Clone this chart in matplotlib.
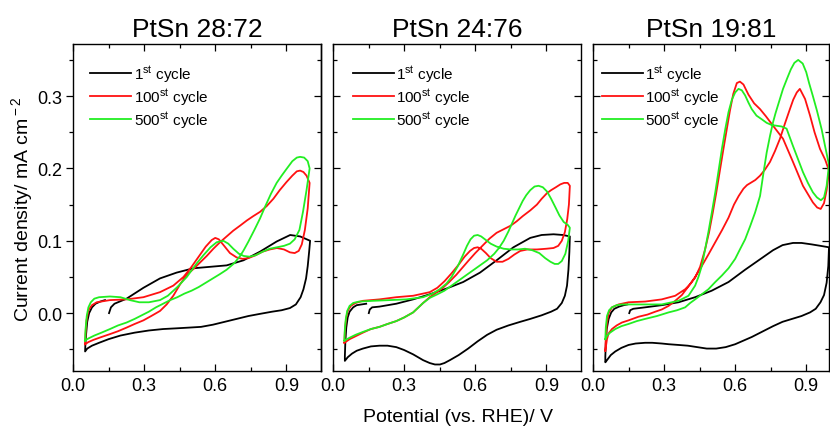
import matplotlib
matplotlib.use("Agg")
import matplotlib.pyplot as plt
from matplotlib.ticker import MultipleLocator

plt.rcParams["font.family"] = ["Liberation Sans", "DejaVu Sans"]
plt.rcParams["mathtext.fontset"] = "custom"
plt.rcParams["mathtext.rm"] = "Liberation Sans"
plt.rcParams["mathtext.it"] = "Liberation Sans:italic"
plt.rcParams["mathtext.bf"] = "Liberation Sans:bold"

titles = ["PtSn 28:72", "PtSn 24:76", "PtSn 19:81"]
labels = [r"1$^{\rm st}$ cycle", r"100$^{\rm st}$ cycle", r"500$^{\rm st}$ cycle"]
colors = ["black", "#ff1111", "#22ee22"]

# ---- PtSn 28:72 ----
p1_black_x = [0.152, 0.160, 0.175, 0.226, 0.297, 0.367, 0.437, 0.508, 0.578, 0.648, 0.719, 0.789, 0.859, 0.916, 0.958, 1.000,
              0.996, 0.990, 0.983, 0.972, 0.960, 0.940, 0.915, 0.880, 0.840, 0.789, 0.740, 0.690, 0.640, 0.590, 0.540, 0.490,
              0.437, 0.380, 0.320, 0.260, 0.200, 0.150, 0.110, 0.080, 0.060, 0.051,
              0.052, 0.055, 0.060, 0.068, 0.080, 0.095, 0.115, 0.135]
p1_black_y = [0.000, 0.008, 0.013, 0.020, 0.035, 0.048, 0.056, 0.062, 0.064, 0.066, 0.073, 0.085, 0.099, 0.108, 0.106, 0.100,
              0.085, 0.065, 0.048, 0.033, 0.022, 0.012, 0.007, 0.004, 0.002, -0.001, -0.004, -0.008, -0.012, -0.016, -0.019, -0.020,
              -0.021, -0.022, -0.024, -0.027, -0.031, -0.036, -0.041, -0.045, -0.049, -0.053,
              -0.045, -0.030, -0.012, 0.000, 0.008, 0.013, 0.016, 0.018]
p1_red_x = [0.051, 0.053, 0.057, 0.065, 0.080, 0.100, 0.156, 0.226, 0.297, 0.367, 0.423, 0.466, 0.500, 0.530, 0.560, 0.585,
            0.600, 0.615, 0.635, 0.662, 0.690, 0.715, 0.740, 0.770, 0.800, 0.830, 0.860, 0.890, 0.915, 0.935, 0.952, 0.965,
            0.978, 0.990, 0.998,
            0.985, 0.972, 0.958, 0.944, 0.925, 0.900, 0.872, 0.845, 0.817, 0.789, 0.760, 0.733, 0.705, 0.676, 0.648, 0.620,
            0.592, 0.564, 0.536, 0.508, 0.480, 0.452, 0.423, 0.395, 0.367, 0.330, 0.297, 0.260, 0.226, 0.190, 0.156, 0.120,
            0.086, 0.065, 0.051]
p1_red_y = [-0.043, -0.028, -0.010, 0.004, 0.011, 0.015, 0.018, 0.019, 0.022, 0.029, 0.038, 0.050, 0.064, 0.078, 0.092, 0.101,
            0.104, 0.102, 0.094, 0.083, 0.077, 0.075, 0.076, 0.080, 0.085, 0.088, 0.090, 0.088, 0.084, 0.083, 0.086, 0.095,
            0.115, 0.145, 0.180,
            0.190, 0.195, 0.197, 0.196, 0.190, 0.181, 0.170, 0.158, 0.148, 0.140, 0.134, 0.128, 0.121, 0.114, 0.106, 0.098,
            0.089, 0.079, 0.070, 0.061, 0.053, 0.040, 0.024, 0.012, 0.003, -0.004, -0.010, -0.015, -0.020, -0.025, -0.029, -0.033,
            -0.037, -0.040, -0.043]
p1_green_x = [0.051, 0.053, 0.058, 0.065, 0.075, 0.090, 0.110, 0.156, 0.200, 0.240, 0.280, 0.320, 0.367, 0.400, 0.440, 0.480,
              0.520, 0.550, 0.580, 0.606, 0.634, 0.655, 0.676, 0.700, 0.720, 0.745, 0.770, 0.800, 0.830, 0.860, 0.890, 0.915,
              0.935, 0.955, 0.970, 0.985, 0.998,
              0.990, 0.975, 0.958, 0.944, 0.925, 0.900, 0.880, 0.859, 0.835, 0.810, 0.789, 0.765, 0.740, 0.720, 0.705, 0.680,
              0.648, 0.620, 0.590, 0.560, 0.530, 0.500, 0.470, 0.440, 0.410, 0.380, 0.350, 0.320, 0.290, 0.260, 0.226, 0.190,
              0.156, 0.120, 0.090, 0.065, 0.051]
p1_green_y = [-0.038, -0.022, -0.004, 0.008, 0.015, 0.020, 0.022, 0.023, 0.022, 0.018, 0.015, 0.015, 0.018, 0.024, 0.036, 0.050,
              0.068, 0.080, 0.091, 0.098, 0.100, 0.096, 0.089, 0.082, 0.079, 0.078, 0.080, 0.085, 0.089, 0.091, 0.093, 0.096,
              0.102, 0.115, 0.140, 0.170, 0.200,
              0.210, 0.215, 0.216, 0.215, 0.210, 0.199, 0.190, 0.180, 0.165, 0.147, 0.131, 0.115, 0.099, 0.087, 0.079, 0.069,
              0.060, 0.054, 0.048, 0.042, 0.036, 0.031, 0.027, 0.022, 0.018, 0.013, 0.008, 0.002, -0.003, -0.008, -0.013, -0.017,
              -0.022, -0.027, -0.031, -0.035, -0.038]

# ---- PtSn 24:76 ----
p2_black_x = [0.151, 0.155, 0.165, 0.196, 0.267, 0.338, 0.408, 0.479, 0.549, 0.620, 0.690, 0.761, 0.832, 0.880, 0.930, 0.970, 0.999,
              0.997, 0.993, 0.987, 0.978, 0.965, 0.945, 0.920, 0.880, 0.832, 0.790, 0.740, 0.690, 0.650, 0.610, 0.570, 0.530,
              0.493, 0.470, 0.451, 0.430, 0.408, 0.380, 0.338, 0.300, 0.267, 0.230, 0.196, 0.160, 0.126, 0.100, 0.080, 0.062, 0.050,
              0.050, 0.052, 0.056, 0.062, 0.070, 0.085, 0.100, 0.120, 0.140]
p2_black_y = [0.000, 0.005, 0.008, 0.009, 0.013, 0.019, 0.026, 0.034, 0.043, 0.056, 0.073, 0.091, 0.104, 0.108, 0.109, 0.108, 0.106,
              0.085, 0.060, 0.038, 0.024, 0.014, 0.006, 0.002, -0.003, -0.008, -0.012, -0.017, -0.023, -0.030, -0.039, -0.049, -0.058,
              -0.065, -0.069, -0.071, -0.071, -0.069, -0.065, -0.057, -0.051, -0.047, -0.045, -0.045, -0.046, -0.049, -0.052, -0.056, -0.061, -0.066,
              -0.060, -0.040, -0.020, -0.006, 0.002, 0.008, 0.011, 0.012, 0.013]
p2_red_x = [0.048, 0.050, 0.055, 0.062, 0.075, 0.095, 0.126, 0.196, 0.267, 0.338, 0.408, 0.440, 0.470, 0.500, 0.530, 0.555,
            0.578, 0.595, 0.610, 0.625, 0.645, 0.665, 0.690, 0.715, 0.740, 0.765, 0.790, 0.820, 0.860, 0.900, 0.930, 0.950,
            0.965, 0.978, 0.988, 0.995, 0.999,
            0.990, 0.975, 0.959, 0.940, 0.920, 0.903, 0.880, 0.860, 0.832, 0.800, 0.775, 0.750, 0.720, 0.690, 0.660, 0.630,
            0.600, 0.570, 0.549, 0.520, 0.490, 0.460, 0.430, 0.408, 0.380, 0.338, 0.300, 0.267, 0.230, 0.196, 0.160, 0.126,
            0.095, 0.070, 0.048]
p2_red_y = [-0.041, -0.025, -0.008, 0.003, 0.010, 0.014, 0.017, 0.019, 0.022, 0.024, 0.029, 0.035, 0.044, 0.055, 0.067, 0.078,
            0.086, 0.090, 0.091, 0.089, 0.083, 0.076, 0.071, 0.071, 0.075, 0.081, 0.086, 0.088, 0.088, 0.089, 0.090, 0.093,
            0.100, 0.112, 0.130, 0.150, 0.176,
            0.180, 0.180, 0.178, 0.174, 0.170, 0.166, 0.158, 0.150, 0.142, 0.134, 0.127, 0.121, 0.116, 0.111, 0.103, 0.093,
            0.083, 0.072, 0.064, 0.053, 0.043, 0.034, 0.027, 0.022, 0.014, 0.001, -0.006, -0.011, -0.015, -0.019, -0.022, -0.027,
            -0.032, -0.036, -0.041]
p2_green_x = [0.048, 0.050, 0.054, 0.060, 0.070, 0.085, 0.110, 0.168, 0.239, 0.309, 0.380, 0.420, 0.450, 0.479, 0.500, 0.525,
              0.549, 0.565, 0.580, 0.595, 0.610, 0.625, 0.645, 0.665, 0.690, 0.720, 0.750, 0.780, 0.810, 0.840, 0.870, 0.895,
              0.917, 0.935, 0.950, 0.965, 0.980, 0.992, 0.999,
              0.990, 0.973, 0.955, 0.940, 0.920, 0.903, 0.885, 0.867, 0.850, 0.832, 0.815, 0.800, 0.785, 0.770, 0.755, 0.740,
              0.720, 0.700, 0.680, 0.650, 0.620, 0.590, 0.560, 0.530, 0.500, 0.470, 0.440, 0.408, 0.380, 0.338, 0.300, 0.267,
              0.230, 0.196, 0.160, 0.126, 0.095, 0.070, 0.048]
p2_green_y = [-0.038, -0.022, -0.008, 0.003, 0.010, 0.014, 0.016, 0.017, 0.018, 0.019, 0.022, 0.027, 0.033, 0.041, 0.050, 0.064,
              0.081, 0.093, 0.102, 0.107, 0.108, 0.106, 0.101, 0.096, 0.092, 0.089, 0.088, 0.088, 0.089, 0.087, 0.083, 0.076,
              0.071, 0.068, 0.068, 0.072, 0.082, 0.100, 0.118,
              0.122, 0.126, 0.135, 0.145, 0.158, 0.168, 0.174, 0.176, 0.175, 0.170, 0.163, 0.155, 0.145, 0.135, 0.124, 0.113,
              0.100, 0.090, 0.082, 0.073, 0.066, 0.059, 0.052, 0.045, 0.038, 0.031, 0.026, 0.021, 0.014, 0.001, -0.006, -0.011,
              -0.015, -0.019, -0.022, -0.026, -0.030, -0.034, -0.038]

# ---- PtSn 19:81 ----
p3_black_x = [0.153, 0.157, 0.170, 0.220, 0.290, 0.361, 0.431, 0.501, 0.572, 0.642, 0.712, 0.760, 0.800, 0.844, 0.880, 0.923, 0.960, 0.996,
              0.993, 0.986, 0.975, 0.960, 0.940, 0.916, 0.880, 0.840, 0.800, 0.760, 0.712, 0.670, 0.642, 0.600, 0.560, 0.520,
              0.480, 0.440, 0.400, 0.361, 0.320, 0.290, 0.250, 0.220, 0.180, 0.150, 0.120, 0.094, 0.075, 0.059, 0.052,
              0.052, 0.054, 0.058, 0.066, 0.077, 0.090, 0.110, 0.130, 0.145]
p3_black_y = [0.000, 0.004, 0.006, 0.008, 0.011, 0.015, 0.022, 0.031, 0.043, 0.060, 0.076, 0.087, 0.094, 0.097, 0.097, 0.095, 0.093, 0.091,
              0.065, 0.042, 0.025, 0.015, 0.006, 0.001, -0.004, -0.008, -0.012, -0.018, -0.026, -0.033, -0.037, -0.043, -0.047, -0.049,
              -0.049, -0.047, -0.045, -0.044, -0.043, -0.042, -0.041, -0.041, -0.042, -0.044, -0.048, -0.053, -0.058, -0.065, -0.068,
              -0.060, -0.042, -0.022, -0.008, 0.001, 0.006, 0.009, 0.011, 0.012]
p3_red_x = [0.052, 0.054, 0.059, 0.066, 0.080, 0.108, 0.150, 0.220, 0.290, 0.347, 0.389, 0.410, 0.431, 0.452, 0.473, 0.490,
            0.505, 0.520, 0.535, 0.550, 0.565, 0.578, 0.592, 0.607, 0.620, 0.635, 0.656, 0.680, 0.705, 0.730, 0.760, 0.802,
            0.844, 0.886, 0.928, 0.946, 0.961, 0.975, 0.986, 0.996,
            0.980, 0.958, 0.935, 0.916, 0.895, 0.873, 0.860, 0.845, 0.831, 0.810, 0.789, 0.768, 0.747, 0.725, 0.705, 0.685,
            0.665, 0.650, 0.635, 0.615, 0.595, 0.572, 0.545, 0.516, 0.487, 0.459, 0.431, 0.403, 0.375, 0.347, 0.319, 0.290,
            0.263, 0.230, 0.192, 0.150, 0.122, 0.100, 0.080, 0.066, 0.059, 0.052]
p3_red_y = [-0.052, -0.033, -0.013, 0.000, 0.008, 0.012, 0.015, 0.016, 0.019, 0.024, 0.033, 0.040, 0.049, 0.064, 0.088, 0.112,
            0.138, 0.166, 0.196, 0.226, 0.255, 0.280, 0.303, 0.318, 0.320, 0.316, 0.302, 0.290, 0.282, 0.272, 0.259, 0.241,
            0.209, 0.176, 0.153, 0.146, 0.144, 0.152, 0.170, 0.197,
            0.212, 0.227, 0.250, 0.273, 0.296, 0.310, 0.305, 0.295, 0.282, 0.262, 0.241, 0.224, 0.209, 0.198, 0.190, 0.184,
            0.180, 0.177, 0.172, 0.162, 0.150, 0.132, 0.115, 0.098, 0.081, 0.065, 0.050, 0.037, 0.025, 0.017, 0.010, 0.005,
            0.002, -0.002, -0.005, -0.010, -0.013, -0.017, -0.022, -0.028, -0.036, -0.052]
p3_green_x = [0.052, 0.054, 0.059, 0.068, 0.080, 0.100, 0.122, 0.220, 0.290, 0.361, 0.403, 0.431, 0.445, 0.459, 0.473, 0.487,
              0.502, 0.516, 0.530, 0.544, 0.558, 0.572, 0.586, 0.600, 0.614, 0.628, 0.642, 0.656, 0.670, 0.690, 0.712, 0.733,
              0.754, 0.775, 0.796, 0.817, 0.844, 0.865, 0.886, 0.907, 0.928, 0.945, 0.962, 0.975, 0.986, 0.996,
              0.980, 0.965, 0.945, 0.928, 0.912, 0.900, 0.885, 0.866, 0.850, 0.835, 0.820, 0.802, 0.785, 0.770, 0.760, 0.747,
              0.733, 0.720, 0.705, 0.684, 0.663, 0.642, 0.620, 0.600, 0.572, 0.544, 0.516, 0.487, 0.459, 0.431, 0.410, 0.389,
              0.355, 0.319, 0.270, 0.220, 0.185, 0.150, 0.120, 0.094, 0.072, 0.060, 0.052]
p3_green_y = [-0.036, -0.020, -0.004, 0.004, 0.008, 0.011, 0.012, 0.012, 0.012, 0.017, 0.024, 0.038, 0.050, 0.065, 0.088, 0.112,
              0.140, 0.167, 0.197, 0.227, 0.254, 0.278, 0.295, 0.305, 0.310, 0.308, 0.301, 0.291, 0.282, 0.273, 0.268, 0.263,
              0.260, 0.259, 0.258, 0.255, 0.231, 0.213, 0.195, 0.180, 0.167, 0.160, 0.156, 0.160, 0.176, 0.205,
              0.230, 0.254, 0.280, 0.300, 0.318, 0.333, 0.345, 0.350, 0.346, 0.337, 0.325, 0.310, 0.292, 0.276, 0.264, 0.245,
              0.222, 0.195, 0.162, 0.139, 0.120, 0.102, 0.088, 0.075, 0.062, 0.052, 0.043, 0.033, 0.026, 0.019, 0.014, 0.008,
              0.004, 0.001, -0.004, -0.008, -0.011, -0.015, -0.018, -0.022, -0.027, -0.031, -0.036]

panels = [
    [(p1_black_x, p1_black_y), (p1_red_x, p1_red_y), (p1_green_x, p1_green_y)],
    [(p2_black_x, p2_black_y), (p2_red_x, p2_red_y), (p2_green_x, p2_green_y)],
    [(p3_black_x, p3_black_y), (p3_red_x, p3_red_y), (p3_green_x, p3_green_y)],
]

W, H = 830, 427
fig = plt.figure(figsize=(W / 100, H / 100), dpi=100)

# axes boxes in pixels: left, right, x max ; shared top/bottom
boxes = [(73, 321, 1.046), (333, 581, 1.046), (593, 829, 0.996)]
legend_x = [0.069, 0.079, 0.037]
top_px, bottom_px = 45, 372

axes = []
for i, (l, r, xmax) in enumerate(boxes):
    ax = fig.add_axes([l / W, 1 - bottom_px / H, (r - l) / W, (bottom_px - top_px) / H])
    for (x, y), c, lab in zip(panels[i], colors, labels):
        ax.plot(x, y, color=c, lw=1.3, label=lab)
    ax.set_xlim(0, xmax)
    ax.set_ylim(-0.08, 0.372)
    ax.xaxis.set_major_locator(MultipleLocator(0.3))
    ax.xaxis.set_minor_locator(MultipleLocator(0.15))
    ax.yaxis.set_major_locator(MultipleLocator(0.1))
    ax.yaxis.set_minor_locator(MultipleLocator(0.05))
    ax.tick_params(which="both", direction="in", top=True, right=True, labelsize=13, width=0.9, pad=4)
    ax.tick_params(which="major", length=5)
    ax.tick_params(which="minor", length=3)
    for s in ax.spines.values():
        s.set_linewidth(1.0)
    ax.set_title(titles[i], fontsize=19, pad=6)
    ax.legend(loc="upper left", bbox_to_anchor=(legend_x[i], 0.94), frameon=False, fontsize=11,
              handlelength=2.7, handletextpad=0.15, labelspacing=0.16, borderpad=0, borderaxespad=0)
    if i > 0:
        ax.tick_params(labelleft=False)
    axes.append(ax)

# first panel: left ticks point outward, right ones inward
ax = axes[0]
ax.tick_params(axis="y", which="both", direction="out", right=False, pad=3)
sec = ax.secondary_yaxis("right")
sec.yaxis.set_major_locator(MultipleLocator(0.1))
sec.yaxis.set_minor_locator(MultipleLocator(0.05))
sec.tick_params(which="both", direction="in", labelright=False, width=0.9)
sec.tick_params(which="major", length=5)
sec.tick_params(which="minor", length=3)
sec.spines["right"].set_linewidth(1.0)

fig.text(22 / W, 1 - 209 / H, r"Current density/ mA cm$^{\rm -2}$", rotation=90, ha="center", va="center", fontsize=14)
fig.text(458 / W, 1 - 418 / H, "Potential (vs. RHE)/ V", ha="center", va="center", fontsize=14)

fig.savefig("out.png", dpi=100)
